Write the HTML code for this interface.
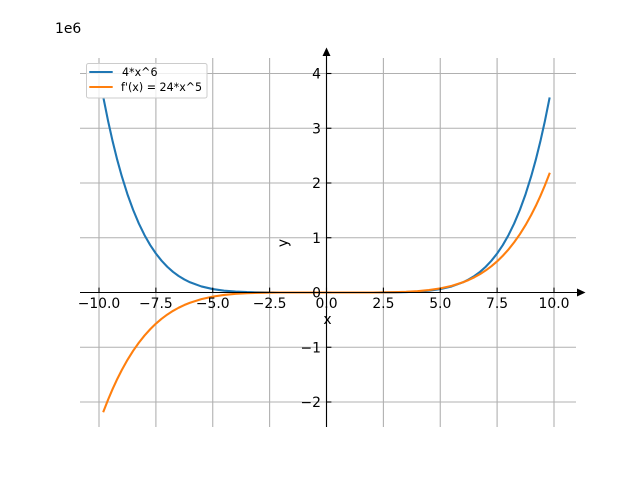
<!DOCTYPE html>
<html><head><meta charset="utf-8"><style>
html,body{margin:0;padding:0;background:#fff;}
svg{display:block;}
text{font-family:"DejaVu Sans","Liberation Sans",sans-serif;fill:#000;}
</style></head><body>
<svg width="640" height="480" viewBox="0 0 640 480" xmlns="http://www.w3.org/2000/svg">
<rect width="640" height="480" fill="#fff"/>
<g stroke="#b0b0b0" stroke-width="1.1" fill="none">
<line x1="99" y1="58" x2="99" y2="427"/>
<line x1="155.9" y1="58" x2="155.9" y2="427"/>
<line x1="212.75" y1="58" x2="212.75" y2="427"/>
<line x1="269.6" y1="58" x2="269.6" y2="427"/>
<line x1="326.5" y1="58" x2="326.5" y2="427"/>
<line x1="383.4" y1="58" x2="383.4" y2="427"/>
<line x1="440.25" y1="58" x2="440.25" y2="427"/>
<line x1="497.1" y1="58" x2="497.1" y2="427"/>
<line x1="554" y1="58" x2="554" y2="427"/>
<line x1="80" y1="73.5" x2="576" y2="73.5"/>
<line x1="80" y1="128.25" x2="576" y2="128.25"/>
<line x1="80" y1="183" x2="576" y2="183"/>
<line x1="80" y1="237.75" x2="576" y2="237.75"/>
<line x1="80" y1="292.5" x2="576" y2="292.5"/>
<line x1="80" y1="347.25" x2="576" y2="347.25"/>
<line x1="80" y1="402" x2="576" y2="402"/>
</g>
<g transform="translate(0,0.5)" fill="none" stroke-width="2.1" stroke-linejoin="round" stroke-linecap="square">
<polyline stroke="#1f77b4" points="103.55,98 108.1,120.58 112.65,140.92 117.2,159.21 121.75,175.61 127.44,193.71 133.13,209.4 138.81,222.95 144.5,234.59 150.19,244.55 155.88,253.02 161.56,260.2 167.25,266.23 172.94,271.29 178.63,275.48 184.31,278.95 190,281.78 201.38,285.94 212.75,288.58 224.13,290.18 235.5,291.1 246.88,291.6 258.25,291.84 280,292 326.5,292 373,292 394.75,291.84 406.13,291.6 417.5,291.1 428.88,290.18 440.25,288.58 451.63,285.94 463,281.78 468.69,278.95 474.38,275.48 480.06,271.29 485.75,266.23 491.44,260.2 497.13,253.02 502.81,244.55 508.5,234.59 514.19,222.95 519.88,209.4 525.56,193.71 531.25,175.61 535.8,159.21 540.35,140.92 544.9,120.58 549.45,98"/>
<polyline stroke="#ff7f0e" points="103.55,410.78 108.1,399.14 112.65,388.43 117.2,378.6 121.75,369.59 127.44,359.4 133.13,350.3 138.81,342.22 144.5,335.06 150.19,328.74 155.88,323.18 161.56,318.32 167.25,314.08 172.94,310.41 178.63,307.25 184.31,304.53 190,302.22 201.38,298.61 212.75,296.11 224.13,294.42 235.5,293.35 246.88,292.69 258.25,292.32 280,292 326.5,292 373,292 394.75,291.68 406.13,291.31 417.5,290.65 428.88,289.58 440.25,287.89 451.63,285.39 463,281.78 468.69,279.47 474.38,276.75 480.06,273.59 485.75,269.92 491.44,265.68 497.13,260.82 502.81,255.26 508.5,248.94 514.19,241.78 519.88,233.7 525.56,224.6 531.25,214.41 535.8,205.4 540.35,195.57 544.9,184.86 549.45,173.22"/>
</g>
<g stroke="#000" stroke-width="1.1" fill="none">
<line x1="80" y1="292.5" x2="578" y2="292.5"/>
<line x1="326.5" y1="56" x2="326.5" y2="427"/>
<line x1="99" y1="287.6" x2="99" y2="292.5"/>
<line x1="155.9" y1="287.6" x2="155.9" y2="292.5"/>
<line x1="212.75" y1="287.6" x2="212.75" y2="292.5"/>
<line x1="269.6" y1="287.6" x2="269.6" y2="292.5"/>
<line x1="326.5" y1="287.6" x2="326.5" y2="292.5"/>
<line x1="383.4" y1="287.6" x2="383.4" y2="292.5"/>
<line x1="440.25" y1="287.6" x2="440.25" y2="292.5"/>
<line x1="497.1" y1="287.6" x2="497.1" y2="292.5"/>
<line x1="554" y1="287.6" x2="554" y2="292.5"/>
<line x1="326.5" y1="73.5" x2="331.4" y2="73.5"/>
<line x1="326.5" y1="128.25" x2="331.4" y2="128.25"/>
<line x1="326.5" y1="183" x2="331.4" y2="183"/>
<line x1="326.5" y1="237.75" x2="331.4" y2="237.75"/>
<line x1="326.5" y1="292.5" x2="331.4" y2="292.5"/>
<line x1="326.5" y1="347.25" x2="331.4" y2="347.25"/>
<line x1="326.5" y1="402" x2="331.4" y2="402"/>
</g>
<polygon points="577,288.5 585.5,292.5 577,296.5" fill="#000"/>
<polygon points="322.5,56 326.5,47.5 330.5,56" fill="#000"/>
<g font-size="13.9" text-anchor="middle">
<text x="99" y="308">−10.0</text>
<text x="155.9" y="308">−7.5</text>
<text x="212.75" y="308">−5.0</text>
<text x="269.6" y="308">−2.5</text>
<text x="326.5" y="308">0.0</text>
<text x="383.4" y="308">2.5</text>
<text x="440.25" y="308">5.0</text>
<text x="497.1" y="308">7.5</text>
<text x="554" y="308">10.0</text>
</g>
<g font-size="13.9" text-anchor="end">
<text x="321" y="78.5">4</text>
<text x="321" y="133.25">3</text>
<text x="321" y="188">2</text>
<text x="321" y="242.75">1</text>
<text x="321" y="297.5">0</text>
<text x="321" y="352.25">−1</text>
<text x="321" y="407">−2</text>
</g>
<text x="55" y="33" font-size="13.9">1e6</text>
<text x="327.5" y="324" font-size="13.9" text-anchor="middle">x</text>
<text transform="translate(287.5,243) rotate(-90)" font-size="13.9" text-anchor="middle">y</text>
<rect x="86.5" y="63.5" width="120.5" height="34.5" rx="2" ry="2" fill="#fff" fill-opacity="0.8" stroke="#cccccc" stroke-width="1"/>
<line x1="89.3" y1="72" x2="112.7" y2="72" stroke="#1f77b4" stroke-width="2.1"/>
<line x1="89.3" y1="87" x2="112.7" y2="87" stroke="#ff7f0e" stroke-width="2.1"/>
<text x="122" y="76" font-size="11.1">4*x^6</text>
<text x="121" y="91" font-size="11.1">f'(x) = 24*x^5</text>
</svg>
</body></html>
